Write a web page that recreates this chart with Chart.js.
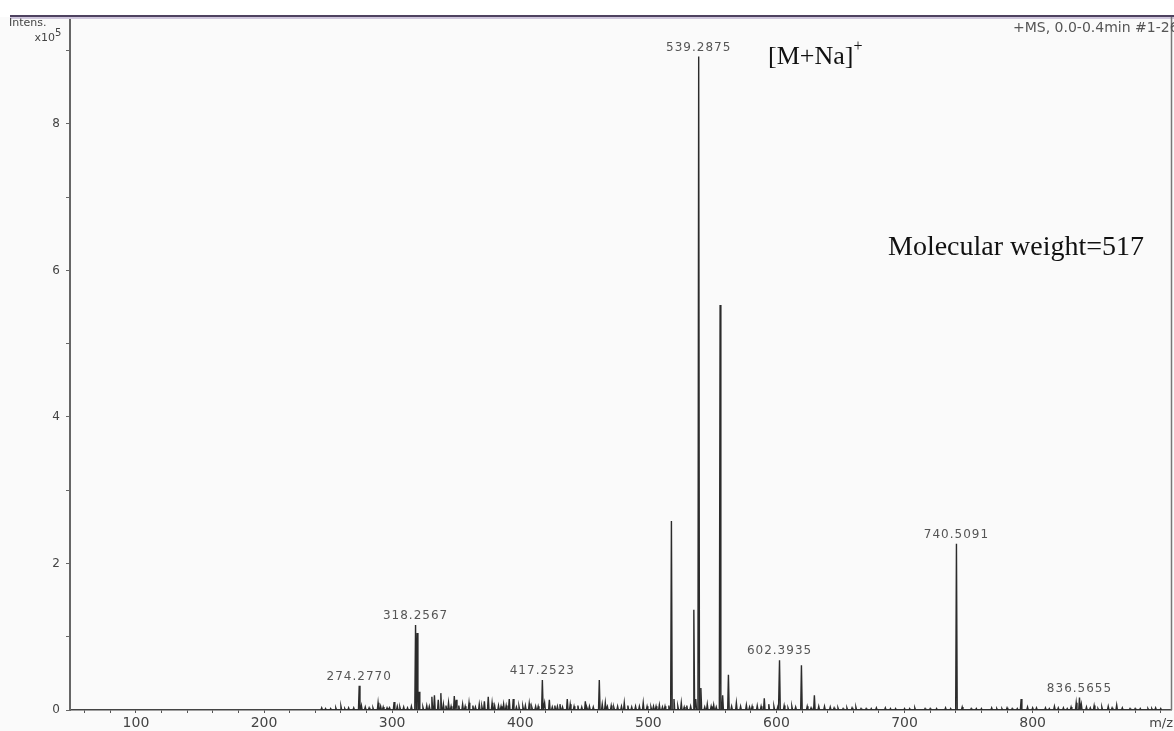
<!DOCTYPE html>
<html>
<head>
<meta charset="utf-8">
<title>ESI-MS spectrum</title>
<script src="https://cdn.jsdelivr.net/npm/chart.js@4.4.1/dist/chart.umd.min.js"></script>
<style>
  html, body { margin: 0; padding: 0; background: #ffffff; }
  #specWrap { width: 1174px; height: 731px; position: relative; }
</style>
</head>
<body>
<div id="specWrap"><canvas id="specChart" width="1174" height="731"></canvas></div>
<script>
/* =========================================================
   SPECTRUM DATA  (m/z, intensity x10^5)
========================================================= */

const peakMz = [
  245, 252, 260, 266, 274.2770, 276, 282, 289, 291, 296,
  301.5, 304, 309, 318.2567, 319.5, 321, 327, 331, 333, 336,
  338, 340, 344, 348.5, 350, 355, 360, 363, 368, 372,
  375, 378, 383, 387, 391.4, 394.5, 399, 404, 407, 412,
  417.2523, 419, 422.7, 427, 431, 436.7, 439, 445, 450.8, 454,
  461.7, 464, 466.4, 471, 476, 481.2, 484, 490, 496, 499,
  504, 508.6, 513, 518, 520, 525.7, 530, 535.5, 537, 539.2875,
  541, 546, 551, 556, 558, 562.5, 568.7, 572, 576.5, 581,
  585, 590.5, 594, 598, 602.3935, 606, 612, 619.5, 624, 629.6,
  633, 637.5, 642, 648, 655, 662, 670, 678, 685, 693,
  700, 708, 716, 725, 732, 740.5091, 745, 752, 760, 768,
  776, 784, 791, 796, 803, 810, 817, 824, 830, 834,
  836.5655, 838, 842, 848, 854, 859, 865.6, 870, 876, 884,
  890, 896
];

const peakIntensity = [
  0.03, 0.02, 0.05, 0.03, 0.33, 0.06, 0.03, 0.10, 0.05, 0.03,
  0.11, 0.05, 0.04, 1.16, 1.05, 0.25, 0.06, 0.18, 0.20, 0.14,
  0.23, 0.08, 0.10, 0.19, 0.14, 0.08, 0.10, 0.06, 0.08, 0.12,
  0.18, 0.10, 0.06, 0.08, 0.15, 0.15, 0.05, 0.06, 0.09, 0.05,
  0.41, 0.10, 0.14, 0.06, 0.08, 0.15, 0.08, 0.06, 0.12, 0.05,
  0.41, 0.08, 0.10, 0.06, 0.05, 0.10, 0.06, 0.05, 0.10, 0.05,
  0.05, 0.07, 0.05, 2.58, 0.15, 0.10, 0.06, 1.37, 0.15, 8.92,
  0.30, 0.08, 0.07, 5.53, 0.20, 0.48, 0.10, 0.05, 0.07, 0.05,
  0.06, 0.16, 0.08, 0.05, 0.68, 0.06, 0.05, 0.61, 0.05, 0.20,
  0.05, 0.05, 0.04, 0.03, 0.03, 0.04, 0.02, 0.03, 0.03, 0.02,
  0.02, 0.03, 0.02, 0.02, 0.03, 2.27, 0.04, 0.02, 0.02, 0.03,
  0.02, 0.02, 0.15, 0.04, 0.03, 0.03, 0.05, 0.03, 0.04, 0.10,
  0.17, 0.08, 0.04, 0.06, 0.04, 0.05, 0.07, 0.03, 0.02, 0.02,
  0.02, 0.03
];

// low-level chemical background between the main ions
const noiseMz = [
  248, 256, 263, 270, 279, 285, 293, 298, 306, 312,
  315, 324, 329, 342, 346, 352, 357, 365, 370, 380,
  385, 389, 397, 402, 409, 414, 425, 429, 433, 442,
  448, 452, 457, 468, 473, 479, 487, 493, 502, 506,
  511, 516, 523, 528, 533, 544, 549, 553, 565, 579,
  588, 601, 609, 615, 627, 645, 652, 659, 666, 674,
  689, 704, 720, 736, 756, 772, 780, 788, 800, 813,
  820, 827, 845, 851, 862, 880, 893, 900
];

const noiseIntensity = [
  0.02, 0.03, 0.02, 0.03, 0.04, 0.03, 0.04, 0.03, 0.04, 0.03,
  0.05, 0.04, 0.05, 0.06, 0.05, 0.06, 0.05, 0.04, 0.05, 0.06,
  0.05, 0.06, 0.04, 0.05, 0.04, 0.05, 0.04, 0.05, 0.04, 0.05,
  0.04, 0.05, 0.04, 0.05, 0.04, 0.05, 0.04, 0.05, 0.04, 0.05,
  0.04, 0.06, 0.05, 0.04, 0.05, 0.04, 0.05, 0.04, 0.05, 0.04,
  0.05, 0.04, 0.03, 0.04, 0.03, 0.03, 0.02, 0.03, 0.02, 0.02,
  0.02, 0.02, 0.02, 0.02, 0.02, 0.02, 0.03, 0.02, 0.03, 0.02,
  0.03, 0.02, 0.03, 0.02, 0.03, 0.02, 0.02, 0.02
];

// peaks that carry an m/z annotation
const labelledMz = [274.2770, 318.2567, 417.2523, 539.2875, 602.3935, 740.5091, 836.5655];

const xLabelTicks = [100, 200, 300, 400, 500, 600, 700, 800];
const xMinorStep = 20;
const yTicks = [0, 1, 2, 3, 4, 5, 6, 7, 8, 9];
const yLabelTicks = [0, 2, 4, 6, 8];

const X_MIN = 48.5;
const X_MAX = 908;
const Y_MAX = 9.46;

/* =========================================================
   HELPERS
========================================================= */

// each centroid becomes a narrow triangle on the baseline
function buildProfile() {
  const sticks = peakMz.map((m, i) => [m, peakIntensity[i]])
    .concat(noiseMz.map((m, i) => [m, noiseIntensity[i]]))
    .sort((a, b) => a[0] - b[0]);

  const pts = [];
  sticks.forEach(([m, h]) => {
    pts.push({ x: m - 0.6, y: 0 });
    pts.push({ x: m, y: h });
    pts.push({ x: m + 0.6, y: 0 });
  });
  return pts;
}

function intensityAt(m) {
  const i = peakMz.indexOf(m);
  return i >= 0 ? peakIntensity[i] : 0;
}

function xMinorTicks() {
  const out = [];
  for (let v = 60; v <= 900; v += xMinorStep) out.push({ value: v });
  return out;
}

/* =========================================================
   FRAME, ANNOTATIONS & CAPTIONS
========================================================= */

const frameAndText = {
  id: "frameAndText",

  beforeDraw(chart) {
    const { ctx, chartArea: a } = chart;
    ctx.save();
    ctx.fillStyle = "#ffffff";
    ctx.fillRect(0, 0, chart.width, chart.height);
    ctx.fillStyle = "#fafafa";
    ctx.fillRect(0, a.top, chart.width, chart.height - a.top);
    ctx.restore();
  },

  afterDraw(chart) {
    const { ctx, chartArea: a } = chart;
    const xs = chart.scales.x;
    const ys = chart.scales.y;

    ctx.save();

    // top rule and right edge
    ctx.fillStyle = "#4e4260";
    ctx.fillRect(10, a.top - 2, chart.width - 10, 2);
    ctx.fillStyle = "#cfc6dc";
    ctx.fillRect(10, a.top, chart.width - 10, 2);
    ctx.strokeStyle = "#777";
    ctx.lineWidth = 1.5;
    ctx.beginPath();
    ctx.moveTo(a.right + 0.5, a.top);
    ctx.lineTo(a.right + 0.5, a.bottom);
    ctx.stroke();

    // m/z labels over the annotated peaks
    ctx.fillStyle = "#555";
    ctx.font = "12px 'DejaVu Sans'";
    ctx.letterSpacing = "1px";
    ctx.textAlign = "center";
    ctx.textBaseline = "bottom";
    labelledMz.forEach(m => {
      const px = xs.getPixelForValue(m);
      const py = ys.getPixelForValue(intensityAt(m));
      ctx.fillText(m.toFixed(4), px, py - 3);
    });
    ctx.letterSpacing = "0px";

    // axis captions
    ctx.fillStyle = "#444";
    ctx.font = "11px 'DejaVu Sans'";
    ctx.textAlign = "left";
    ctx.textBaseline = "middle";
    ctx.fillText("Intens.", 9, 23);
    ctx.textAlign = "right";
    ctx.fillText("x10", 55, 38);
    ctx.font = "10px 'DejaVu Sans'";
    ctx.textAlign = "left";
    ctx.fillText("5", 55, 33);

    ctx.font = "13px 'DejaVu Sans'";
    ctx.textAlign = "right";
    ctx.fillText("m/z", 1173, 724);

    ctx.fillStyle = "#555";
    ctx.font = "14px 'DejaVu Sans'";
    ctx.textAlign = "left";
    ctx.fillText("+MS, 0.0-0.4min #1-26", 1013, 28);

    // adduct and mass notes
    ctx.fillStyle = "#111";
    ctx.font = "26px 'Liberation Serif'";
    ctx.textBaseline = "alphabetic";
    ctx.fillText("[M+Na]", 768, 64);
    const w = ctx.measureText("[M+Na]").width;
    ctx.font = "16px 'Liberation Serif'";
    ctx.fillText("+", 768 + w, 51);

    ctx.font = "28px 'Liberation Serif'";
    ctx.fillText("Molecular weight=517", 888, 255);

    ctx.restore();
  }
};

/* =========================================================
   CHART
========================================================= */

const ctx = document.getElementById("specChart");

new Chart(ctx, {
  type: "line",
  data: {
    datasets: [{
      data: buildProfile(),
      borderColor: "#2b2b2b",
      borderWidth: 1.4,
      pointRadius: 0,
      tension: 0,
      fill: false
    }]
  },
  options: {
    responsive: false,
    animation: false,
    devicePixelRatio: 1,
    layout: { padding: { top: 17, right: 3, left: 0, bottom: 0 } },
    plugins: {
      legend: { display: false },
      tooltip: { enabled: false }
    },
    scales: {
      x: {
        type: "linear",
        min: X_MIN,
        max: X_MAX,
        afterBuildTicks: s => { s.ticks = xMinorTicks(); },
        afterFit: s => { s.height = 21; },
        border: { display: true, color: "#444", width: 1.5 },
        grid: { drawOnChartArea: false, drawTicks: true, tickLength: 3, color: "#555" },
        ticks: {
          autoSkip: false,
          maxRotation: 0,
          padding: 2,
          color: "#444",
          font: { family: "DejaVu Sans", size: 14 },
          callback: v => (xLabelTicks.includes(v) ? String(v) : "")
        }
      },
      y: {
        min: 0,
        max: Y_MAX,
        afterBuildTicks: s => { s.ticks = yTicks.map(v => ({ value: v })); },
        afterFit: s => { s.width = 70; },
        border: { display: true, color: "#666", width: 2 },
        grid: { drawOnChartArea: false, drawTicks: true, tickLength: 4, color: "#666" },
        ticks: {
          autoSkip: false,
          padding: 6,
          color: "#444",
          font: { family: "DejaVu Sans", size: 12 },
          callback: v => (yLabelTicks.includes(v) ? String(v) : "")
        }
      }
    }
  },
  plugins: [frameAndText]
});
</script>
</body>
</html>
